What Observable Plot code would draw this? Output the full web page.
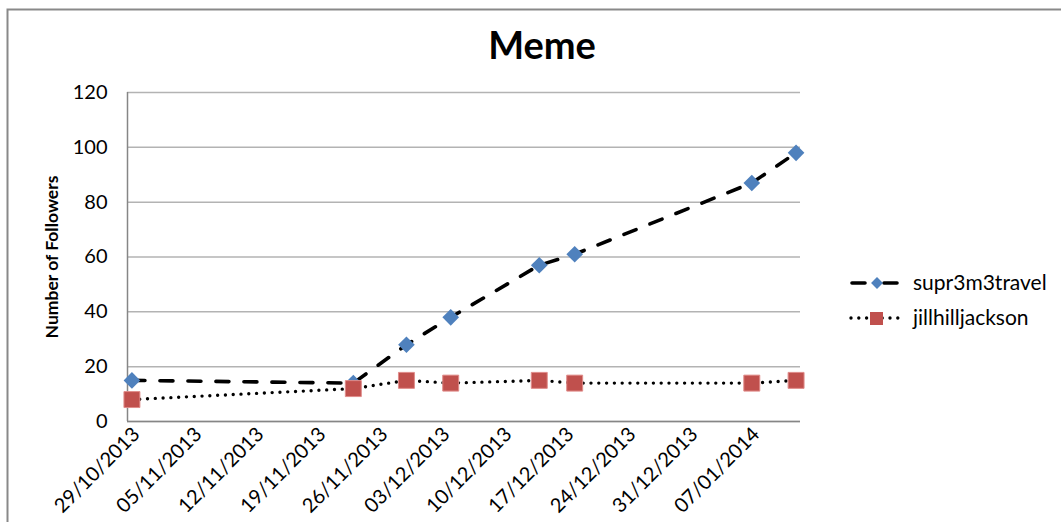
<!DOCTYPE html>
<html><head><meta charset="utf-8">
<script src="https://cdn.jsdelivr.net/npm/d3@7"></script>
<script src="https://cdn.jsdelivr.net/npm/@observablehq/plot@0.6"></script>
<style>body{margin:0;background:#fff} #chart{width:1061px;height:522px}</style>
</head><body><div id="chart"></div>
<script>
const title = "Meme";
const yLabel = "Number of Followers";
const seriesNames = ["supr3m3travel", "jillhilljackson"];
const dates = ["2013-10-29","2013-11-23","2013-11-29","2013-12-04","2013-12-14","2013-12-18","2014-01-07","2014-01-12"];
const supr3m3travel = [15, 14, 28, 38, 57, 61, 87, 98];
const jillhilljackson = [8, 12, 15, 14, 15, 14, 14, 15];
const tickDates = ["2013-10-29","2013-11-05","2013-11-12","2013-11-19","2013-11-26","2013-12-03","2013-12-10","2013-12-17","2013-12-24","2013-12-31","2014-01-07"];
const yTicks = [0, 20, 40, 60, 80, 100, 120];
const xDomain = ["2013-10-28T12:00Z", "2014-01-12T12:00Z"];

const parse = d3.utcParse("%Y-%m-%d");
const fmt = d3.utcFormat("%d/%m/%Y");
const s0 = dates.map((d, i) => ({date: parse(d), value: supr3m3travel[i], series: seriesNames[0]}));
const s1 = dates.map((d, i) => ({date: parse(d), value: jillhilljackson[i], series: seriesNames[1]}));
const dom = xDomain.map(d => new Date(d));

const blue = "#4f81bd", red = "#c0504d";

const plot = Plot.plot({
  width: 1061, height: 522,
  marginLeft: 127, marginRight: 261, marginTop: 92, marginBottom: 101,
  style: {fontFamily: "Lato, sans-serif", fontSize: "20px", color: "#000", background: "#fff", overflow: "visible"},
  x: {type: "utc", domain: dom, ticks: tickDates.map(parse), tickFormat: fmt, tickRotate: -45, tickSize: 0, tickPadding: 10, label: null},
  y: {domain: [0, 120], ticks: yTicks, tickSize: 0, tickPadding: 20, label: null},
  marks: [
    Plot.ruleY(yTicks, {stroke: "#b3b3b3", strokeWidth: 1.5, strokeOpacity: 1}),
    Plot.ruleY([0], {stroke: "#868686", strokeWidth: 1.5, strokeOpacity: 1}),
    Plot.ruleX([dom[0]], {stroke: "#868686", strokeWidth: 1.5, strokeOpacity: 1}),
    Plot.line(s0, {x: "date", y: "value", stroke: "#000", strokeWidth: 3.6, strokeDasharray: "13,15", strokeLinecap: "round"}),
    Plot.line(s1, {x: "date", y: "value", stroke: "#000", strokeWidth: 3.4, strokeDasharray: "0,7.8", strokeLinecap: "round"}),
    Plot.dot(s0, {x: "date", y: "value", symbol: "diamond2", r: 7.5, fill: blue, stroke: "none"}),
    Plot.dot(s1, {x: "date", y: "value", symbol: "square", r: 9, fill: red, stroke: "#e08c8a", strokeWidth: 1})
  ]
});
document.getElementById("chart").appendChild(plot);

const svg = d3.select(plot);
// nudge rotated date labels to sit like the reference
svg.selectAll("g[aria-label='x-axis tick label']").attr("transform", "translate(5,10)").attr("font-size", 20);

svg.append("path").attr("d", "M7.5,522V9.5H1061").attr("fill", "none").attr("stroke", "#898989").attr("stroke-width", 2);
svg.append("text").text(title).attr("x", 542).attr("y", 59).attr("text-anchor", "middle")
  .attr("font-size", 38).attr("font-weight", "bold").attr("font-family", "Lato, sans-serif").attr("fill", "#000");
svg.append("text").text(yLabel).attr("transform", "translate(58,257) rotate(-90)").attr("text-anchor", "middle")
  .attr("font-size", 17.5).attr("font-weight", "bold").attr("font-family", "Lato, sans-serif").attr("fill", "#000");

const lg = svg.append("g").attr("font-family", "Lato, sans-serif").attr("font-size", 21).attr("fill", "#000").attr("text-anchor", "start");
// entry 1
lg.append("line").attr("x1", 852).attr("x2", 897).attr("y1", 283).attr("y2", 283)
  .attr("stroke", "#000").attr("stroke-width", 3.6).attr("stroke-dasharray", "13,19").attr("stroke-linecap", "round");
lg.append("path").attr("d", d3.symbol(d3.symbolDiamond2, 90)()).attr("transform", "translate(877,283)").attr("fill", blue);
lg.append("text").text(seriesNames[0]).attr("x", 913).attr("y", 283).attr("dy", "0.35em").attr("text-anchor", "start");
// entry 2
lg.append("line").attr("x1", 851).attr("x2", 899).attr("y1", 318).attr("y2", 318)
  .attr("stroke", "#000").attr("stroke-width", 3.4).attr("stroke-dasharray", "0,7.8").attr("stroke-linecap", "round");
lg.append("rect").attr("x", 870).attr("y", 312).attr("width", 13).attr("height", 13).attr("fill", red);
lg.append("text").text(seriesNames[1]).attr("x", 913).attr("y", 318).attr("dy", "0.35em").attr("text-anchor", "start");
</script>
</body></html>
